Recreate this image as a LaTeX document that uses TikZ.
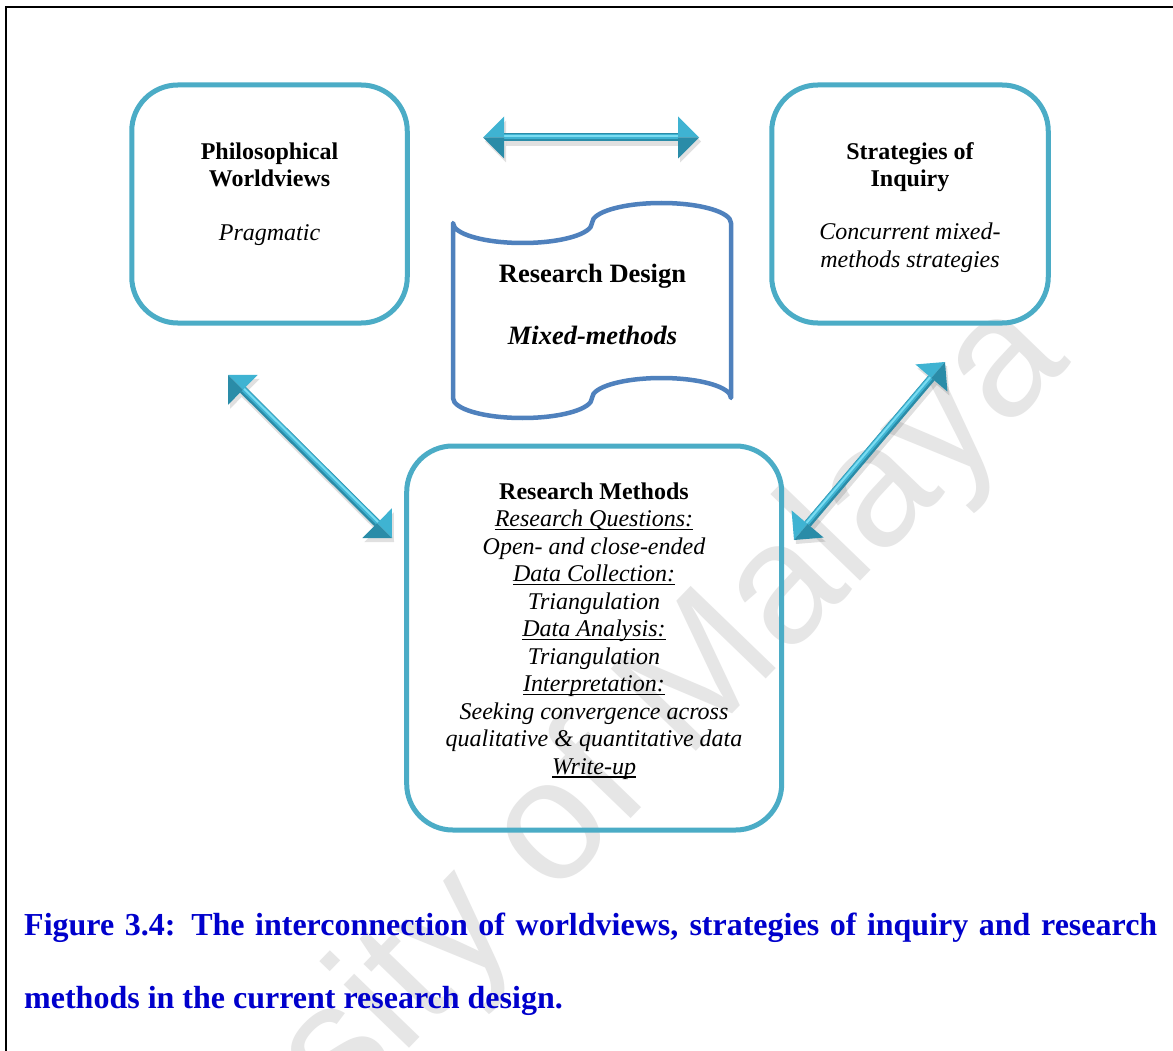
\documentclass[tikz,border=0pt]{standalone}
\usepackage{fontspec}
\setmainfont{Liberation Serif}
\newfontfamily\wmfont{Liberation Sans}
\usetikzlibrary{calc}

\definecolor{boxcol}{HTML}{4BACC6}
\definecolor{tapecol}{HTML}{4F81BD}
\definecolor{capblue}{HTML}{0000CC}
\definecolor{wmgray}{HTML}{E6E6E6}
\definecolor{arrdark}{HTML}{2A8CA8}
\definecolor{arrmid}{HTML}{3FB3D2}
\definecolor{arrlight}{HTML}{7ADCF2}

% underline at a fixed depth below the baseline
\newcommand{\myul}[1]{\leavevmode\setbox0\hbox{#1}\rlap{\rule[-3.2pt]{\wd0}{1.3pt}}\box0}

% bevelled double-headed arrow between two named coordinates
\newcommand{\dualarrow}[2]{%
  \coordinate (#1b) at ($(#1)!21pt!(#2)$);
  \coordinate (#2b) at ($(#2)!21pt!(#1)$);
  \coordinate (#1l) at ($(#1b)!21pt!90:(#2)$);
  \coordinate (#1r) at ($(#1b)!21pt!-90:(#2)$);
  \coordinate (#2l) at ($(#2b)!21pt!-90:(#1)$);
  \coordinate (#2r) at ($(#2b)!21pt!90:(#1)$);
  % soft shadow
  \draw[line width=9pt, black, opacity=.12] ($(#1b)+(2,4)$) -- ($(#2b)+(2,4)$);
  \fill[black, opacity=.12] ($(#1)+(2,4)$) -- ($(#1l)+(2,4)$) -- ($(#1r)+(2,4)$) -- cycle;
  \fill[black, opacity=.12] ($(#2)+(2,4)$) -- ($(#2l)+(2,4)$) -- ($(#2r)+(2,4)$) -- cycle;
  % shaft
  \draw[line width=8pt, arrdark] (#1b) -- (#2b);
  \draw[line width=5pt, arrmid] ($(#1b)!1pt!90:(#2b)$) -- ($(#2b)!1pt!-90:(#1b)$);
  \draw[line width=2pt, arrlight] ($(#1b)!1.5pt!90:(#2b)$) -- ($(#2b)!1.5pt!-90:(#1b)$);
  % heads
  \fill[arrmid] (#1) -- (#1l) -- (#1b) -- cycle;
  \fill[arrdark] (#1) -- (#1r) -- (#1b) -- cycle;
  \fill[arrmid] (#2) -- (#2l) -- (#2b) -- cycle;
  \fill[arrdark] (#2) -- (#2r) -- (#2b) -- cycle;
}

\begin{document}
\begin{tikzpicture}[x=1pt, y=-1pt,
  roundbox/.style={draw=boxcol, line width=5pt, rounded corners=46pt,
    inner sep=0pt, outer sep=0pt},
  boxtext/.style={anchor=base, inner sep=0pt, font=\fontsize{24}{27.5}\selectfont},
  boldtext/.style={boxtext, font=\fontsize{24}{27.5}\selectfont\bfseries},
  itext/.style={boxtext, font=\fontsize{24}{27.5}\selectfont\itshape},
  captext/.style={anchor=base west, inner sep=0pt, text=capblue,
    font=\fontsize{32}{36}\selectfont\bfseries}]

\useasboundingbox (0,0) rectangle (1173,1051);
\fill[white] (0,0) rectangle (1173,1051);

% watermark
\node[rotate=46, anchor=base east, inner sep=0pt, text=wmgray,
  font=\wmfont\fontsize{172}{172}\selectfont] (wm) at (1072,362) {University of Malaya};

% page frame
\draw[line width=2.5pt] (6,1051) -- (6,7) -- (1173,7);

% the three boxes
\node[roundbox, minimum width=275.5pt, minimum height=238pt] (phil) at (269.5,204) {};
\node[roundbox, minimum width=276.5pt, minimum height=238pt] (strat) at (910,204) {};
\node[roundbox, minimum width=375pt, minimum height=384pt] (meth) at (594.2,638) {};

% research design tape
\draw[tapecol, line width=4.5pt, line join=round]
  (453,223) .. controls (453,234.05) and (484.1,243) .. (522.5,243)
  .. controls (560.9,243) and (592,234.05) .. (592,223)
  .. controls (592,211.95) and (623.1,203) .. (661.5,203)
  .. controls (699.9,203) and (731,211.95) .. (731,223)
  -- (731,398)
  .. controls (731,386.95) and (699.9,378) .. (661.5,378)
  .. controls (623.1,378) and (592,386.95) .. (592,398)
  .. controls (592,409.05) and (560.9,418) .. (522.5,418)
  .. controls (484.1,418) and (453,409.05) .. (453,398)
  -- cycle;
\node[anchor=base, inner sep=0pt, font=\fontsize{26.5}{30}\selectfont\bfseries]
  (design) at (592.5,282.7) {Research Design};
\node[anchor=base, inner sep=0pt, font=\fontsize{26.5}{30}\selectfont\bfseries\itshape]
  (mixed) at (592.5,344) {Mixed-methods};

% left box text
\node[boldtext] (ph1) at (269.5,159.5) {Philosophical};
\node[boldtext] (ph2) at (269.5,187) {Worldviews};
\node[itext] (ph3) at (269.5,241) {Pragmatic};

% right box text
\node[boldtext] (st1) at (910,159.5) {Strategies of};
\node[boldtext] (st2) at (910,187) {Inquiry};
\node[itext] (st3) at (910,240) {Concurrent mixed-};
\node[itext] (st4) at (910,267.5) {methods strategies};

% bottom box text
\node[boldtext] (m0) at (594,499.3) {Research Methods};
\node[itext] (m1) at (594,526.8) {\myul{Research Questions:}};
\node[itext] (m2) at (594,554.3) {Open- and close-ended};
\node[itext] (m3) at (594,581.8) {\myul{Data Collection:}};
\node[itext] (m4) at (594,609.3) {Triangulation};
\node[itext] (m5) at (594,636.8) {\myul{Data Analysis:}};
\node[itext] (m6) at (594,664.3) {Triangulation};
\node[itext] (m7) at (594,691.8) {\myul{Interpretation:}};
\node[itext] (m8) at (594,719.3) {Seeking convergence across};
\node[itext] (m9) at (594,746.8) {qualitative \& quantitative data};
\node[itext] (m10) at (594,774.3) {\myul{Write-up}};

% double-headed arrows
\coordinate (ha1) at (483,137.5);
\coordinate (ha2) at (699,137.5);
\coordinate (la1) at (228,375);
\coordinate (la2) at (392,538);
\coordinate (ra1) at (945,362);
\coordinate (ra2) at (794,540);
\dualarrow{ha1}{ha2}
\dualarrow{la1}{la2}
\dualarrow{ra2}{ra1}

% caption
\node[captext] (cap1) at (24,935)
  {\makebox[1133pt][s]{Figure 3.4: The interconnection of worldviews, strategies of inquiry and research}};
\node[captext] (cap2) at (24,1008) {methods in the current research design.};
\end{tikzpicture}
\end{document}
